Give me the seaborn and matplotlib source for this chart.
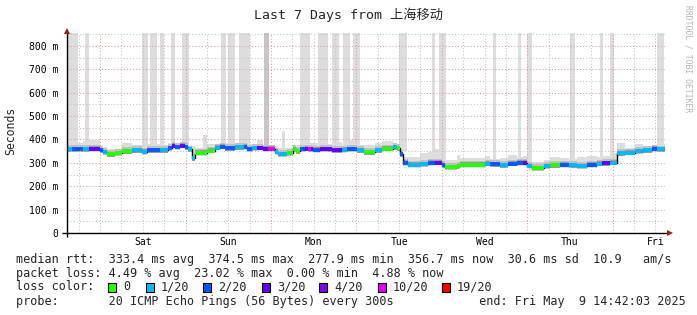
import matplotlib
matplotlib.use("Agg")
import matplotlib.pyplot as plt
import numpy as np
import pandas as pd
import seaborn as sns
from matplotlib.patches import Rectangle
from matplotlib.ticker import FixedLocator, FuncFormatter

# ---------------- data (hours since graph start, ms) ----------------
seg_start = [0, 1.3, 4.6, 6.3, 9.3, 10.2, 11.2, 13.5, 15.4, 18.2,
             21.0, 22.4, 26.1, 28.5, 29.4, 30.4, 31.8, 33.2, 34.1, 35.0,
             36.0, 39.3, 41.6, 43.0, 44.4, 47.2, 49.6, 50.5, 51.9, 53.3,
             55.2, 56.6, 58.4, 59.4, 61.7, 63.6, 64.4, 65.5, 66.9, 67.8,
             68.6, 69.2, 71.1, 73.0, 74.4, 77.2, 78.6, 81.4, 83.3, 86.6,
             88.4, 91.7, 92.6, 93.5, 94.5, 95.9, 99.2, 101.5, 103.4, 105.3,
             106.2, 109.5, 110.4, 117.4, 118.8, 121.6, 124.0, 126.4, 128.0, 129.2,
             130.6, 133.9, 135.7, 138.5, 140.9, 143.2, 146.0, 148.8, 150.2, 152.5,
             154.6, 156.8, 159.6, 161.9, 164.3, 165.7]
seg_rtt = [358, 358, 358, 360, 354, 346, 336, 342, 349, 354,
           347, 354, 354, 363, 374, 368, 374, 366, 357, 319,
           343, 352, 365, 369, 362, 366, 369, 359, 363, 364,
           360, 360, 347, 338, 342, 359, 349, 359, 361, 358,
           358, 356, 359, 358, 353, 356, 359, 354, 345, 354,
           361, 366, 362, 336, 300, 292, 295, 300, 301, 290,
           282, 286, 292, 297, 293, 290, 297, 300, 300, 287,
           278, 286, 289, 292, 289, 286, 292, 297, 298, 301,
           341, 344, 350, 354, 360, 357]
seg_loss = [1, 2, 1, 3, 2, 1, 0, 0, 0, 1,
            1, 2, 1, 2, 3, 2, 3, 2, 1, 1,
            0, 0, 1, 2, 2, 1, 2, 2, 1, 3,
            3, 10, 1, 1, 0, 0, 0, 2, 3, 10,
            3, 2, 3, 3, 3, 1, 2, 1, 0, 1,
            0, 1, 0, 2, 2, 1, 1, 2, 3, 2,
            0, 0, 0, 1, 2, 1, 2, 2, 3, 1,
            0, 1, 0, 2, 1, 1, 2, 1, 3, 1,
            1, 1, 1, 1, 2, 1]
seg_smoke_hi = [390, 385, 392, 398, 372, 366, 358, 360, 385, 375,
                412, 380, 378, 385, 392, 385, 390, 385, 375, 370,
                365, 380, 380, 385, 385, 385, 380, 380, 380, 398,
                378, 378, 370, 365, 362, 378, 378, 398, 398, 388,
                385, 385, 378, 380, 390, 378, 398, 378, 375, 385,
                392, 382, 380, 365, 325, 325, 340, 345, 360, 330,
                310, 335, 320, 330, 318, 320, 335, 325, 330, 315,
                302, 310, 325, 322, 316, 325, 330, 325, 330, 340,
                385, 362, 380, 365, 368, 380]

spike_start = [0.3, 5.1, 21.1, 23.3, 26.1, 29.2, 32.3, 38.2, 43.3, 45.2,
               48.3, 55.4, 60.4, 65.5, 70.5, 74.5, 77.6, 80.4, 93.3, 102.6,
               104.6, 119.7, 126.8, 129.3, 141.4, 149.8, 152.6, 165.8]
spike_end = [3.1, 6.2, 22.8, 25.3, 27.3, 30.4, 34.3, 39.2, 44.7, 47.2,
             51.4, 56.8, 61.3, 68.3, 73.4, 76.4, 79.5, 82.3, 95.6, 103.4,
             106.5, 120.6, 127.6, 130.7, 142.8, 150.6, 153.7, 167.8]
spike_top = [900, 900, 900, 900, 900, 900, 900, 418, 900, 900,
             900, 900, 435, 900, 900, 900, 900, 900, 900, 900,
             900, 900, 900, 900, 900, 900, 900, 900]
spike_shade = [0, 0, 0, 0, 0, 0, 0, 0, 0, 0,
               0, 1, 0, 0, 0, 0, 0, 0, 0, 0,
               0, 0, 0, 0, 0, 0, 0, 0]

day_labels = ["Sat", "Sun", "Mon", "Tue", "Wed", "Thu", "Fri"]
first_midnight = 9.3          # hours from start (start = Fri 14:42)
total_hours = 168.0

loss_levels = [0, 1, 2, 3, 4, 10, 19]
loss_labels = ["0", "1/20", "2/20", "3/20", "4/20", "10/20", "19/20"]
loss_colors = ["#26ff00", "#00b8ff", "#0059ff", "#5e00ff", "#7e00ff", "#dd00ff", "#ff0000"]

title = "Last 7 Days from 上海移动"
row_rtt = "median rtt:  333.4 ms avg  374.5 ms max  277.9 ms min  356.7 ms now  30.6 ms sd  10.9   am/s"
row_loss = "packet loss: 4.49 % avg  23.02 % max  0.00 % min  4.88 % now"
row_probe = "probe:       20 ICMP Echo Pings (56 Bytes) every 300s            end: Fri May  9 14:42:03 2025"

# ---------------- figure ----------------
sns.set_theme(style="white")
plt.rcParams["font.family"] = ["DejaVu Sans Mono", "Noto Sans CJK SC"]

W, H = 697, 315
fig = plt.figure(figsize=(W / 100, H / 100), dpi=100)
fig.patch.set_facecolor("white")


def fx(x):
    return x / W


def fy(y):
    return 1 - y / H


ax = fig.add_axes([fx(67), fy(233), 598 / W, 200 / H])
ax.set_facecolor("white")

df = pd.DataFrame({"start": seg_start, "rtt": seg_rtt, "loss": seg_loss, "hi": seg_smoke_hi})
df["end"] = list(seg_start[1:]) + [total_hours]
df["width"] = df["end"] - df["start"]
cmap = dict(zip(loss_levels, loss_colors))

# smoke
ax.bar(df["start"], df["hi"] - (df["rtt"] - 12), bottom=df["rtt"] - 12, width=df["width"],
       align="edge", color="#dddddd", linewidth=0, zorder=1)
sp = pd.DataFrame({"start": spike_start, "end": spike_end, "top": spike_top, "shade": spike_shade})
idx = np.searchsorted(np.array(seg_start), sp["start"].values, side="right") - 1
sp["bottom"] = np.array(seg_rtt)[idx] - 10
sp_col = np.where(sp["shade"] == 1, "#c6c6c6", "#dddddd")
ax.bar(sp["start"], sp["top"] - sp["bottom"], bottom=sp["bottom"], width=sp["end"] - sp["start"],
       align="edge", color=sp_col, linewidth=0, zorder=1)
ax.bar(df["start"], 28, bottom=df["rtt"] - 11, width=df["width"], align="edge",
       color="#c0c0c0", linewidth=0, zorder=1.2)
ax.bar(df["start"], 20, bottom=df["rtt"] - 10, width=df["width"], align="edge",
       color="#999999", linewidth=0, zorder=1.3)

# median line
step_df = pd.DataFrame({"hour": list(seg_start) + [total_hours], "rtt": list(seg_rtt) + [seg_rtt[-1]]})
sns.lineplot(data=step_df, x="hour", y="rtt", drawstyle="steps-post", color="black",
             linewidth=1.0, ax=ax, estimator=None, sort=False, zorder=4)
ax.hlines(df["rtt"], df["start"], df["end"], colors=[cmap[l] for l in df["loss"]],
          linewidth=2.8, zorder=5, capstyle="butt")

ax.set_xlim(0, total_hours)
ax.set_ylim(0, 855)
ax.set_xlabel("")
ax.set_ylabel("")

# ticks / grid
midnights = [first_midnight + 24 * k for k in range(7)]
six_hours = [first_midnight - 6 + 6 * k for k in range(28)]
noons = [first_midnight + 12 + 24 * k for k in range(7)]
noon_map = {round(n, 1): d for n, d in zip(noons, day_labels)}
ax.xaxis.set_major_locator(FixedLocator(midnights))
ax.xaxis.set_minor_locator(FixedLocator(six_hours))
ax.xaxis.set_major_formatter(FuncFormatter(lambda v, p: ""))
ax.xaxis.set_minor_formatter(FuncFormatter(lambda v, p: noon_map.get(round(v, 1), "")))
ax.yaxis.set_major_locator(FixedLocator(list(range(0, 801, 100))))
ax.yaxis.set_minor_locator(FixedLocator(list(range(50, 851, 100))))
ax.yaxis.set_major_formatter(FuncFormatter(lambda v, p: "0" if v == 0 else f"{v:.0f} m"))

ax.set_axisbelow(False)
ax.grid(which="major", color="#e29a9a", linestyle=(0, (1, 2)), linewidth=0.75)
ax.grid(which="minor", color="#c2c2c2", linestyle=(0, (1, 2)), linewidth=0.75)
ax.tick_params(axis="both", which="both", direction="out", length=2, width=0.7,
               color="#777777", labelsize=7, labelcolor="black")
ax.tick_params(axis="y", which="both", pad=4.5)
ax.tick_params(axis="x", which="both", pad=0.8)

for s in ax.spines.values():
    s.set_visible(False)
ax.plot([-0.008, 1.006], [0, 0], transform=ax.transAxes, color="black", lw=1.0,
        clip_on=False, zorder=6, solid_capstyle="butt")
ax.plot([0, 0], [-0.02, 1.0], transform=ax.transAxes, color="black", lw=1.0,
        clip_on=False, zorder=6, solid_capstyle="butt")
ax.plot([1.008], [0], transform=ax.transAxes, marker=">", color="#a01818", ms=4,
        clip_on=False, zorder=7, markeredgewidth=0)
ax.plot([0], [1.01], transform=ax.transAxes, marker="^", color="#a01818", ms=4,
        clip_on=False, zorder=7, markeredgewidth=0)

# texts
fig.text(fx(348), fy(15), title, ha="center", va="center", fontsize=9.5)
fig.text(fx(11), fy(131), "Seconds", rotation=90, ha="center", va="center", fontsize=8.3)
fig.text(fx(688), fy(5), "RRDTOOL / TOBI OETIKER", rotation=270, ha="center", va="top",
         fontsize=5.8, color="#b4b4b4")

LEG = 8.5
fig.text(fx(16), fy(262.5), row_rtt, ha="left", va="baseline", fontsize=LEG)
fig.text(fx(16), fy(276.5), row_loss, ha="left", va="baseline", fontsize=LEG)
fig.text(fx(16), fy(290.5), "loss color:", ha="left", va="baseline", fontsize=LEG)
fig.text(fx(16), fy(304.5), row_probe, ha="left", va="baseline", fontsize=LEG)

box_x = [108, 146, 203, 262, 319, 378, 442]
for bx, lab, col in zip(box_x, loss_labels, loss_colors):
    fig.add_artist(Rectangle((fx(bx), fy(291.5)), 8 / W, 9 / H, transform=fig.transFigure,
                             facecolor=col, edgecolor="black", linewidth=0.8))
    fig.text(fx(bx + 15), fy(290.5), lab, ha="left", va="baseline", fontsize=LEG)

fig.savefig("out.png", dpi=100, facecolor="white")
